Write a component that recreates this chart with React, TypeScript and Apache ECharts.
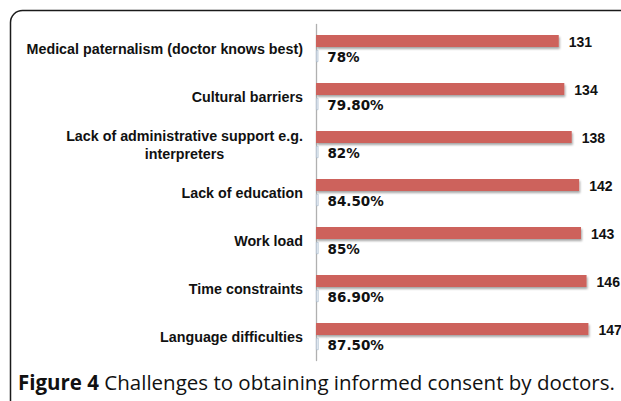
import React, { useEffect, useRef } from "react";
import * as echarts from "echarts";

const categories = [
  "Medical paternalism (doctor knows best)",
  "Cultural barriers",
  "Lack of administrative support e.g.\ninterpreters",
  "Lack of education",
  "Work load",
  "Time constraints",
  "Language difficulties",
];
const counts = [131, 134, 138, 142, 143, 146, 147];
const percents = [78, 79.8, 82, 84.5, 85, 86.9, 87.5];
const percentLabels = ["78%", "79.80%", "82%", "84.50%", "85%", "86.90%", "87.50%"];
const captionBold = "Figure 4";
const captionText = " Challenges to obtaining informed consent by doctors.";

export default function App() {
  const ref = useRef<HTMLDivElement>(null);
  useEffect(() => {
    if (!ref.current) return;
    const chart = echarts.init(ref.current, undefined, { renderer: "svg" });
    const fontSize = 14.3;
    const font = `bold ${fontSize}px 'Liberation Sans'`;
    const ctx = document.createElement("canvas").getContext("2d");
    let wrapW = 0;
    categories.forEach((c) => {
      if (c.indexOf("\n") >= 0 && ctx) {
        ctx.font = font;
        c.split("\n").forEach((l) => {
          wrapW = Math.max(wrapW, ctx.measureText(l).width);
        });
      }
    });
    if (!wrapW) wrapW = 236;
    chart.setOption({
      animation: false,
      backgroundColor: "#ffffff",
      grid: { left: 316, top: 24.5, height: 336, width: 296.5, containLabel: false },
      xAxis: [
        { type: "value", min: 0, max: 160, show: false },
        { type: "value", min: 0, max: 10000, show: false },
      ],
      yAxis: {
        type: "category",
        data: categories,
        inverse: true,
        axisLine: { show: true, lineStyle: { color: "#b0b0b0", width: 1.3 } },
        axisTick: { show: false },
        splitLine: { show: false },
        axisLabel: {
          margin: 13,
          color: "#111",
          fontFamily: "Liberation Sans",
          fontWeight: "bold",
          fontSize: fontSize,
          lineHeight: 18,
          align: "right",
          formatter: (v: string) =>
            v.indexOf("\n") >= 0
              ? v
                  .split("\n")
                  .map((l) => "{c|" + l + "}")
                  .join("\n")
              : v,
          rich: {
            c: {
              width: Math.ceil(wrapW),
              align: "center",
              fontFamily: "Liberation Sans",
              fontWeight: "bold",
              fontSize: fontSize,
              lineHeight: 18,
              color: "#111",
            },
          },
        },
      },
      series: [
        {
          type: "bar",
          xAxisIndex: 0,
          data: counts,
          barWidth: 12,
          barGap: "25%",
          itemStyle: {
            color: "#CD625C",
            shadowColor: "rgba(0,0,0,0.35)",
            shadowBlur: 2,
            shadowOffsetY: 2,
            shadowOffsetX: 1,
          },
          label: {
            show: true,
            position: "right",
            distance: 10,
            offset: [0, 1],
            color: "#111",
            fontFamily: "Liberation Sans",
            fontWeight: "bold",
            fontSize: 14,
          },
        },
        {
          type: "bar",
          xAxisIndex: 1,
          data: percents,
          barWidth: 12,
          itemStyle: {
            color: "#e8eef5",
            borderColor: "#9fb3c8",
            borderWidth: 0.6,
          },
          label: {
            show: true,
            position: "right",
            distance: 9,
            offset: [0, 1],
            color: "#111",
            fontFamily: "DejaVu Sans",
            fontWeight: "bold",
            fontSize: 13.5,
            formatter: (p: any) => percentLabels[p.dataIndex],
          },
        },
      ],
      graphic: [
        {
          type: "rect",
          shape: { x: 10.5, y: 10.5, width: 700, height: 500, r: 12 },
          style: { fill: "none", stroke: "#1a1a1a", lineWidth: 1.5 },
          silent: true,
        },
        {
          type: "text",
          x: 18,
          y: 382,
          style: {
            text: "{b|" + captionBold + "}{n|" + captionText + "}",
            verticalAlign: "middle",
            rich: {
              b: { fontFamily: "Open Sans", fontWeight: "bold", fontSize: 20.5, fill: "#111" },
              n: { fontFamily: "Open Sans", fontWeight: "normal", fontSize: 20.5, fill: "#111" },
            },
          },
        },
      ],
    });
    return () => chart.dispose();
  }, []);
  return (
    <div
      ref={ref}
      style={{ position: "fixed", left: 0, top: 0, width: 621, height: 401 }}
    />
  );
}
